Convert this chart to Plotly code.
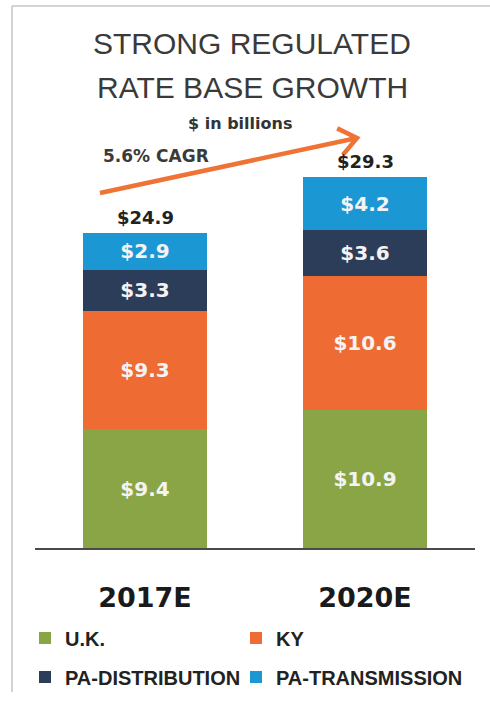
import numpy as np
import plotly.graph_objects as go

# Rate base by segment, $ in billions
years = ["2017E", "2020E"]
uk = [9.4, 10.9]
ky = [9.3, 10.6]
pa_dist = [3.3, 3.6]
pa_trans = [2.9, 4.2]
totals = [24.9, 29.3]
cagr_label = "5.6% CAGR"

W, H = 490, 701
L, R, T, B = 35, 15, 143, 153
PW, PH = W - L - R, H - T - B


def px(x):
    return (x - L) / PW


def py(y):
    return (H - B - y) / PH


BOLD = "DejaVu Sans"
# name, values, colour, legend id, legend slot (left px, row centre px)
segments = [
    ("U.K.", uk, "#8AA545", "legend", (25, 638)),
    ("KY", ky, "#EE6C33", "legend2", (236, 638)),
    ("PA-DISTRIBUTION", pa_dist, "#2C3D59", "legend3", (25, 677)),
    ("PA-TRANSMISSION", pa_trans, "#1B97D3", "legend4", (236, 677)),
]

fig = go.Figure()
for name, vals, color, lg, _ in segments:
    fig.add_trace(go.Bar(
        x=years, y=vals, name=name, legend=lg,
        marker=dict(color=color, line=dict(width=0)),
        texttemplate="$%{y:.1f}", textposition="inside",
        insidetextanchor="middle", textangle=0,
        textfont=dict(family=BOLD, size=20, color="#F3F3F3", weight="bold"),
        hoverinfo="skip",
    ))

annotations = []
# Totals above each stack
for yr, tot in zip(years, totals):
    annotations.append(dict(
        x=yr, y=tot, xref="x", yref="y", text=f"${tot:.1f}", showarrow=False,
        yanchor="bottom", yshift=3,
        font=dict(family=BOLD, size=18, color="#222222", weight="bold"),
    ))


def paper_text(x, y, text, font):
    return dict(x=px(x), y=py(y), xref="paper", yref="paper", text=text,
                xanchor="center", yanchor="middle", showarrow=False, font=font)


title_font = dict(family="Liberation Sans", size=30, color="#3a3a3a")
annotations += [
    paper_text(252, 44, "STRONG REGULATED", title_font),
    paper_text(252, 87, "RATE BASE GROWTH", title_font),
    paper_text(240, 124, "$ in billions",
               dict(family=BOLD, size=16, color="#333333", weight="bold")),
    paper_text(156, 156, cagr_label,
               dict(family=BOLD, size=17, color="#3a3a3a", weight="bold")),
]

# Growth arrow with open chevron head
x0, y0, x1, y1 = 100, 193, 357, 138
d = np.array([x1 - x0, y1 - y0], dtype=float)
d /= np.linalg.norm(d)
arms = []
for ang in (np.radians(38), -np.radians(38)):
    rot = np.array([[np.cos(ang), -np.sin(ang)], [np.sin(ang), np.cos(ang)]])
    v = rot @ (-d) * 22
    arms.append((x1 + v[0], y1 + v[1]))
path = (f"M {px(x0)},{py(y0)} L {px(x1)},{py(y1)} "
        f"M {px(arms[0][0])},{py(arms[0][1])} L {px(x1)},{py(y1)} "
        f"L {px(arms[1][0])},{py(arms[1][1])}")

shapes = [
    dict(type="path", xref="paper", yref="paper", path=path,
         line=dict(color="#EE7335", width=4.5)),
    # thin frame along the top and left
    dict(type="line", xref="paper", yref="paper", x0=px(12), x1=px(490), y0=py(6), y1=py(6),
         line=dict(color="#C4C4C4", width=1.5)),
    dict(type="line", xref="paper", yref="paper", x0=px(12), x1=px(12), y0=py(6), y1=py(692),
         line=dict(color="#C4C4C4", width=1.5)),
]

legend_font = dict(family="Liberation Sans", size=20, color="#222222", weight="bold")
legends = {}
for _, _, _, lg, (lx, ly) in segments:
    legends[lg] = dict(orientation="h", xanchor="left", yanchor="middle",
                       x=px(lx), y=py(ly), itemwidth=30, font=legend_font,
                       bgcolor="rgba(0,0,0,0)")

fig.update_layout(
    width=W, height=H,
    margin=dict(l=L, r=R, t=T, b=B, autoexpand=False),
    paper_bgcolor="white", plot_bgcolor="white",
    barmode="stack", bargap=0.432,
    showlegend=True,
    xaxis=dict(showline=True, linecolor="#4a4a4a", linewidth=1.5, ticks="",
               showgrid=False, zeroline=False, ticklabelstandoff=25,
               tickfont=dict(family=BOLD, size=27, color="#1a1a1a", weight="bold")),
    yaxis=dict(range=[0, 32], visible=False, showgrid=False, zeroline=False),
    annotations=annotations,
    shapes=shapes,
    **legends,
)

fig.write_html("out.html")
